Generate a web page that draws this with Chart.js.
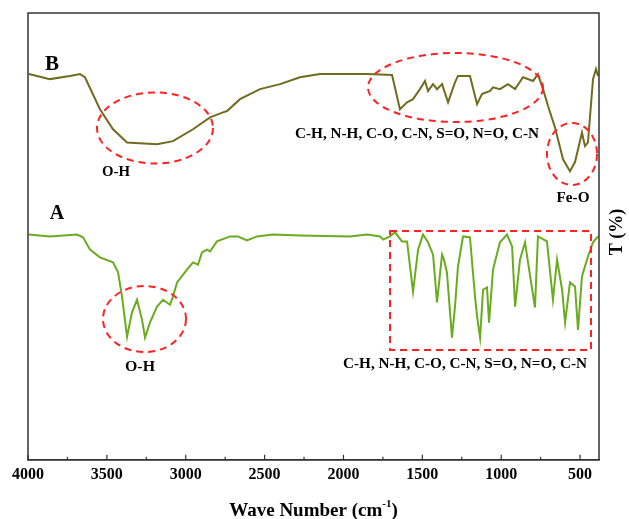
<!DOCTYPE html>
<html>
<head>
<meta charset="utf-8">
<script src="https://cdn.jsdelivr.net/npm/chart.js@4.4.1/dist/chart.umd.min.js"></script>
<style>
  html, body { margin: 0; padding: 0; background: #fff; }
  #wrap { width: 629px; height: 519px; position: relative; }
</style>
</head>
<body>
<div id="wrap"><canvas id="ftirChart"></canvas></div>
<script>
// wave numbers (cm-1) and transmittance (arbitrary, offset)
const waveB = [3994, 3861, 3734, 3670, 3639, 3544, 3461, 3372, 3182, 3081, 2954, 2846, 2764, 2738, 2656, 2529, 2402, 2276, 2149, 1851,
  1692, 1642, 1597, 1559, 1515, 1483, 1464, 1432, 1407, 1375, 1337, 1293, 1274, 1198, 1153, 1122, 1071, 1052, 1008, 957,
  912, 862, 798, 767, 735, 703, 659, 608, 564, 532, 488, 469, 450, 418, 399, 386];
const transB = [86.6, 85.5, 86.2, 86.6, 85.9, 78.9, 74.5, 71.6, 71.2, 71.9, 74.5, 77.1, 78.2, 78.5, 81.1, 83.3, 84.4, 85.9, 86.6, 86.6,
  86.4, 78.9, 80.4, 81.1, 83.3, 85.1, 82.9, 84.4, 83.3, 84.4, 80.4, 84.8, 86.2, 86.2, 80.0, 82.2, 82.9, 83.7, 83.3, 84.4,
  83.3, 85.9, 85.1, 86.6, 83.3, 79.6, 74.9, 67.9, 65.3, 67.3, 73.8, 70.8, 71.6, 85.5, 87.7, 86.2];

const waveA = [3994, 3861, 3689, 3651, 3607, 3544, 3461, 3429, 3404, 3372, 3341, 3309, 3277, 3258, 3227, 3182, 3144, 3100, 3081, 3055,
  2992, 2954, 2922, 2897, 2865, 2846, 2802, 2719, 2669, 2612, 2548, 2447, 2276, 1959, 1851, 1768, 1749, 1705, 1673, 1629,
  1597, 1559, 1527, 1496, 1464, 1432, 1407, 1375, 1363, 1344, 1312, 1293, 1274, 1242, 1198, 1166, 1153, 1134, 1115, 1090,
  1077, 1052, 1008, 963, 931, 912, 881, 849, 830, 786, 767, 710, 672, 646, 614, 595, 564, 532, 513, 488,
  450, 418, 386];
const transA = [51.4, 51.0, 51.4, 50.8, 48.1, 46.4, 45.3, 43.1, 37.8, 29.0, 34.3, 37.1, 32.7, 28.8, 32.1, 35.6, 37.1, 36.0, 37.8, 40.9,
  43.7, 45.3, 44.8, 47.5, 48.1, 47.7, 49.9, 51.0, 51.0, 50.1, 51.0, 51.4, 51.2, 51.0, 51.4, 51.0, 50.3, 51.0, 51.9, 49.9,
  49.9, 38.9, 48.1, 51.4, 49.7, 47.0, 36.5, 47.0, 45.9, 43.1, 28.8, 35.6, 44.4, 51.0, 50.8, 37.8, 33.4, 28.8, 39.3, 39.8,
  32.1, 43.7, 49.7, 51.4, 48.8, 35.6, 45.9, 49.7, 45.3, 35.4, 51.0, 49.9, 37.1, 45.9, 39.3, 32.1, 40.9, 40.0, 30.5, 42.2,
  46.6, 49.7, 51.0];

const xTicks = [4000, 3500, 3000, 2500, 2000, 1500, 1000, 500];
const xMinorTicks = [3750, 3250, 2750, 2250, 1750, 1250, 750];

const FONT = '"Liberation Serif", "Times New Roman", serif';
const RED = '#ff2222';

function toPoints(xs, ys) {
  return xs.map((x, i) => ({ x: x, y: ys[i] }));
}

function drawLabel(ctx, text, cx, cy, size, width) {
  ctx.save();
  ctx.font = 'bold ' + size + 'px ' + FONT;
  ctx.fillStyle = '#000';
  ctx.textAlign = 'center';
  ctx.textBaseline = 'middle';
  ctx.translate(cx, cy);
  if (width) {
    const w = ctx.measureText(text).width;
    ctx.scale(width / w, 1);
  }
  ctx.fillText(text, 0, 0);
  ctx.restore();
}

// frame, inward ticks, annotations and titles
const decorPlugin = {
  id: 'decor',
  afterDraw(chart) {
    const ctx = chart.ctx;
    const area = chart.chartArea;
    const xs = chart.scales.x;

    ctx.save();
    ctx.strokeStyle = '#333';
    ctx.lineWidth = 1.5;
    ctx.strokeRect(area.left, area.top, area.right - area.left, area.bottom - area.top);

    ctx.lineWidth = 1.2;
    ctx.beginPath();
    xTicks.forEach(v => {
      const px = xs.getPixelForValue(v);
      ctx.moveTo(px, area.bottom);
      ctx.lineTo(px, area.bottom - 5);
    });
    xMinorTicks.forEach(v => {
      const px = xs.getPixelForValue(v);
      ctx.moveTo(px, area.bottom);
      ctx.lineTo(px, area.bottom - 3);
    });
    ctx.stroke();

    // red dashed marks
    ctx.strokeStyle = RED;
    ctx.lineWidth = 2;
    ctx.setLineDash([7, 5]);
    [[155, 128, 58, 35.5], [455.5, 87.5, 87.5, 34.5], [572, 154, 25, 31], [144.5, 319, 41.5, 33]].forEach(e => {
      ctx.beginPath();
      ctx.ellipse(e[0], e[1], e[2], e[3], 0, 0, Math.PI * 2);
      ctx.stroke();
    });
    ctx.strokeRect(390, 231, 201, 119);
    ctx.setLineDash([]);
    ctx.restore();

    drawLabel(ctx, 'B', 52, 65, 21);
    drawLabel(ctx, 'A', 57, 214, 20);
    drawLabel(ctx, 'O-H', 116, 172, 14, 28);
    drawLabel(ctx, 'C-H, N-H, C-O, C-N, S=O, N=O, C-N', 417, 134, 14, 244);
    drawLabel(ctx, 'Fe-O', 573, 198, 14, 33);
    drawLabel(ctx, 'O-H', 140, 367, 14, 30);
    drawLabel(ctx, 'C-H, N-H, C-O, C-N, S=O, N=O, C-N', 465, 364, 14, 244);

    // y title, reading bottom to top
    ctx.save();
    ctx.translate(617, 232);
    ctx.rotate(-Math.PI / 2);
    ctx.font = 'bold 18px ' + FONT;
    ctx.fillStyle = '#000';
    ctx.textAlign = 'center';
    ctx.textBaseline = 'middle';
    ctx.fillText('T (%)', 0, 0);
    ctx.restore();

    // x title with superscript
    ctx.save();
    ctx.fillStyle = '#000';
    ctx.textBaseline = 'alphabetic';
    const main = 'Wave Number (cm';
    const sup = '-1';
    const tail = ')';
    ctx.font = 'bold 19px ' + FONT;
    const wMain = ctx.measureText(main).width;
    const wTail = ctx.measureText(tail).width;
    ctx.font = 'bold 11px ' + FONT;
    const wSup = ctx.measureText(sup).width;
    let x = (area.left + area.right) / 2 - (wMain + wSup + wTail) / 2;
    const base = 516;
    ctx.font = 'bold 19px ' + FONT;
    ctx.fillText(main, x, base);
    x += wMain;
    ctx.font = 'bold 11px ' + FONT;
    ctx.fillText(sup, x, base - 9);
    x += wSup;
    ctx.font = 'bold 19px ' + FONT;
    ctx.fillText(tail, x, base);
    ctx.restore();
  }
};

new Chart(document.getElementById('ftirChart'), {
  type: 'line',
  data: {
    datasets: [
      {
        label: 'B',
        data: toPoints(waveB, transB),
        borderColor: '#716b1f',
        borderWidth: 2,
        pointRadius: 0,
        tension: 0
      },
      {
        label: 'A',
        data: toPoints(waveA, transA),
        borderColor: '#6aab1f',
        borderWidth: 2,
        pointRadius: 0,
        tension: 0
      }
    ]
  },
  options: {
    responsive: true,
    maintainAspectRatio: false,
    animation: false,
    layout: { padding: { left: 28, right: 30, top: 13, bottom: 30 } },
    plugins: {
      legend: { display: false },
      tooltip: { enabled: false }
    },
    scales: {
      x: {
        type: 'linear',
        reverse: true,
        min: 380,
        max: 4000,
        afterBuildTicks: scale => {
          scale.ticks = xTicks.map(v => ({ value: v }));
        },
        grid: { display: false, drawTicks: false },
        border: { display: true, color: '#333', width: 1.5 },
        ticks: {
          padding: 5,
          maxRotation: 0,
          autoSkip: false,
          color: '#000',
          font: { family: FONT, size: 16, weight: 'bold' },
          callback: v => String(v)
        }
      },
      y: {
        display: false,
        min: 2,
        max: 100
      }
    }
  },
  plugins: [decorPlugin]
});
</script>
</body>
</html>
